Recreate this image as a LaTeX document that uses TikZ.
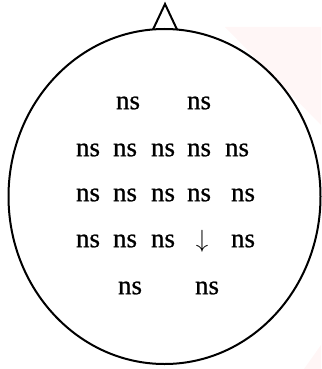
\documentclass[tikz,border=0pt]{standalone}
\usepackage{fontspec}
\setmainfont{Liberation Serif}
\newfontfamily\nsfont[FakeBold=0.8]{Liberation Serif}
\begin{document}
\begin{tikzpicture}[x=1pt,y=-1pt,
  lbl/.style={inner sep=0pt,font=\nsfont\fontsize{27}{27}\selectfont},
  arr/.style={inner sep=0pt,font=\fontsize{26}{26}\selectfont},
  headline/.style={line width=2pt,black}]
\useasboundingbox (0,0) rectangle (321,369);
% faint pink background marks
\fill[pink!15] (225,27) -- (321,27) -- (321,125) -- cycle;
\fill[pink!15] (321,345) -- (321,369) -- (304,369) -- cycle;
% head
\draw[headline] (164.5,196.5) ellipse [x radius=156, y radius=167.5];
\coordinate (nl) at (153,29.5);
\coordinate (nr) at (177,29.5);
\coordinate (nt) at (165,4);
\draw[headline,line join=miter] (nl) -- (nt) -- (nr);
% row 1
\node[lbl] (a1) at (128,103) {ns};
\node[lbl] (a2) at (199,103) {ns};
% row 2
\node[lbl] (b1) at (88,150) {ns};
\node[lbl] (b2) at (125,150) {ns};
\node[lbl] (b3) at (163,150) {ns};
\node[lbl] (b4) at (199,150) {ns};
\node[lbl] (b5) at (237,150) {ns};
% row 3
\node[lbl] (c1) at (88,195) {ns};
\node[lbl] (c2) at (125,195) {ns};
\node[lbl] (c3) at (163,195) {ns};
\node[lbl] (c4) at (199,195) {ns};
\node[lbl] (c5) at (243,195) {ns};
% row 4
\node[lbl] (d1) at (88,241) {ns};
\node[lbl] (d2) at (125,241) {ns};
\node[lbl] (d3) at (163,241) {ns};
\node[arr] (d4) at (202,241) {$\downarrow$};
\node[lbl] (d5) at (243,241) {ns};
% row 5
\node[lbl] (e1) at (130,288) {ns};
\node[lbl] (e2) at (207,288) {ns};
\end{tikzpicture}
\end{document}
